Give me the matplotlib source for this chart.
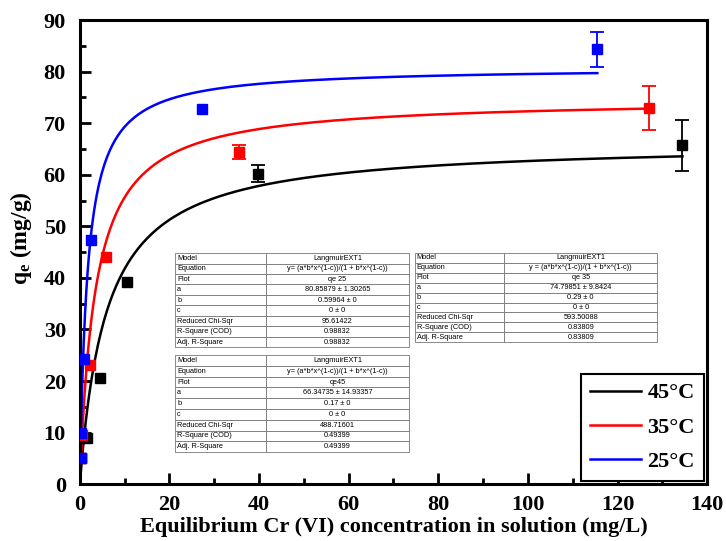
import numpy as np
import matplotlib.pyplot as plt

plt.rcParams['font.family'] = ['Liberation Serif', 'DejaVu Serif']
plt.rcParams['mathtext.default'] = 'regular'

# data (nan = no visible error bar)
nan = np.nan
x45 = [0.3, 1.6, 4.5, 10.6, 39.8, 134.5]
y45 = [5.0, 8.9, 20.6, 39.3, 60.2, 65.7]
e45 = [nan, nan, nan, nan, 1.7, 5.0]

x35 = [0.2, 0.5, 2.2, 5.8, 35.5, 127.0]
y35 = [5.0, 9.5, 23.1, 44.1, 64.4, 72.9]
e35 = [nan, nan, nan, nan, 1.4, 4.3]

x25 = [0.2, 0.2, 0.9, 2.5, 27.2, 115.5]
y25 = [5.0, 9.9, 24.3, 47.4, 72.7, 84.3]
e25 = [nan, nan, nan, nan, nan, 3.4]

# fit parameters from the tables (LangmuirEXT1, c = 0)
a45, b45 = 66.34735, 0.17
a35, b35 = 74.79851, 0.29
a25, b25 = 80.85879, 0.59964

rows = ['Model', 'Equation', 'Plot', 'a', 'b', 'c', 'Reduced Chi-Sqr', 'R-Square (COD)', 'Adj. R-Square']
tab25 = ['LangmuirEXT1', 'y= (a*b*x^(1-c))/(1 + b*x^(1-c))', 'qe 25', '80.85879 \u00b1 1.30265',
         '0.59964 \u00b1 0', '0 \u00b1 0', '95.61422', '0.98832', '0.98832']
tab35 = ['LangmuirEXT1', 'y = (a*b*x^(1-c))/(1 + b*x^(1-c))', 'qe 35', '74.79851 \u00b1 9.8424',
         '0.29 \u00b1 0', '0 \u00b1 0', '593.50088', '0.83809', '0.83809']
tab45 = ['LangmuirEXT1', 'y= (a*b*x^(1-c))/(1 + b*x^(1-c))', 'qe45', '66.34735 \u00b1 14.93357',
         '0.17 \u00b1 0', '0 \u00b1 0', '488.71601', '0.49399', '0.49399']

fig = plt.figure(figsize=(7.26, 5.41), dpi=100)
ax = fig.add_axes([0.110, 0.105, 0.864, 0.858])

series = [(x45, y45, e45, a45, b45, 'black', '45\u00b0C'),
          (x35, y35, e35, a35, b35, 'red', '35\u00b0C'),
          (x25, y25, e25, a25, b25, 'blue', '25\u00b0C')]

for xs, ys, es, a, b, col, lab in series:
    xf = np.linspace(0, max(xs), 400)
    ax.plot(xf, a * b * xf / (1 + b * xf), color=col, lw=1.8, label=lab, zorder=2)
for xs, ys, es, a, b, col, lab in series:
    ax.errorbar(xs, ys, yerr=es, fmt='s', color=col, ms=7, capsize=5, elinewidth=1.3,
                capthick=1.3, zorder=3)

ax.set_xlim(0, 140)
ax.set_ylim(0, 90)
ax.set_xticks(np.arange(0, 141, 20))
ax.set_xticks(np.arange(0, 141, 10), minor=True)
ax.set_yticks(np.arange(0, 91, 10))
ax.set_yticks(np.arange(0, 91, 5), minor=True)
ax.tick_params(which='both', direction='in', width=2)
ax.tick_params(which='major', length=8, labelsize=16)
ax.tick_params(axis='x', which='major', pad=8)
ax.tick_params(axis='y', which='major', pad=10)
ax.tick_params(which='minor', length=4)
for t in ax.get_xticklabels() + ax.get_yticklabels():
    t.set_fontweight('bold')
for s in ax.spines.values():
    s.set_linewidth(2.2)

ax.set_xlabel('Equilibrium Cr (VI) concentration in solution (mg/L)', fontsize=16,
              fontweight='bold', labelpad=1)
ax.set_ylabel('q$_e$ (mg/g)', fontsize=17, fontweight='bold', labelpad=4)
ax.yaxis.set_label_coords(-0.073, 0.53)

leg = ax.legend(loc='lower right', prop={'weight': 'bold', 'size': 16},
                fancybox=False, framealpha=1, edgecolor='black', handlelength=2.3,
                handletextpad=0.3, borderaxespad=0.15, labelspacing=0.62, borderpad=0.4)
leg.get_frame().set_linewidth(1.5)


def draw_table(vals, bbox, c0):
    tb = ax.table(cellText=[[r, v] for r, v in zip(rows, vals)], bbox=bbox,
                  colWidths=[c0, 1 - c0], cellLoc='left', zorder=5)
    tb.auto_set_font_size(False)
    for (r, c), cell in tb.get_celld().items():
        cell.set_edgecolor('#777777')
        cell.set_linewidth(0.6)
        cell.set_text_props(fontsize=5.3, family=['Liberation Sans', 'DejaVu Sans'],
                            ha='left' if c == 0 else 'center')
        cell.PAD = 0.02


draw_table(tab25, [0.152, 0.295, 0.372, 0.203], 0.39)
draw_table(tab35, [0.534, 0.306, 0.386, 0.192], 0.37)
draw_table(tab45, [0.152, 0.069, 0.372, 0.209], 0.39)

fig.savefig('out.png', dpi=100)
